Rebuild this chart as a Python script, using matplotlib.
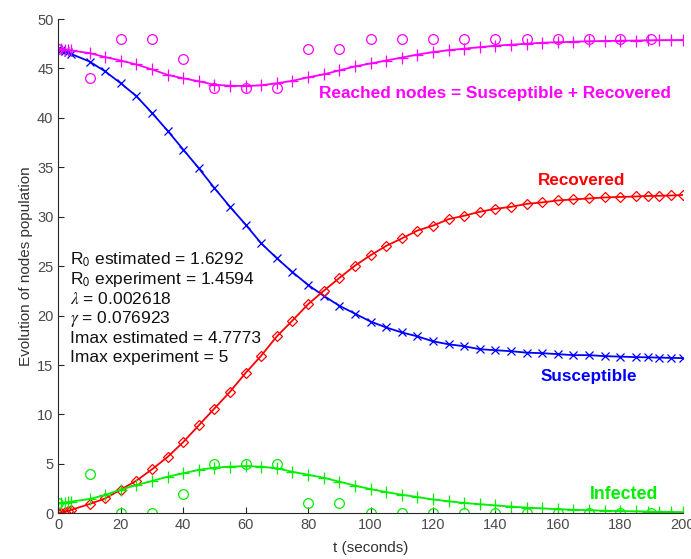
import matplotlib
matplotlib.use("Agg")
import matplotlib.pyplot as plt

plt.rcParams['font.family'] = ['Liberation Sans', 'DejaVu Sans']
plt.rcParams['mathtext.fontset'] = 'stix'

# solver output times
t = [0, 1, 2, 3, 4, 10, 15, 20, 25, 30, 35, 40, 45, 50, 55, 60, 65, 70, 75, 80,
     85, 90, 95, 100, 105, 110, 115, 120, 125, 130, 135, 140, 145, 150, 155, 160,
     165, 170, 175, 180, 185, 188.75, 192.5, 196.25, 200]

susceptible = [47.0, 46.88, 46.75, 46.62, 46.48, 45.7, 44.7, 43.5, 42.2, 40.5, 38.7,
               36.8, 34.9, 32.9, 31.0, 29.2, 27.3, 25.8, 24.4, 23.1, 22.0, 21.0, 20.2,
               19.4, 18.8, 18.3, 17.9, 17.4, 17.1, 16.9, 16.6, 16.5, 16.4, 16.25, 16.2,
               16.1, 16.0, 16.0, 15.9, 15.85, 15.8, 15.78, 15.75, 15.72, 15.7]

infected = [1.0, 1.05, 1.09, 1.13, 1.18, 1.45, 1.85, 2.4, 2.85, 3.27, 3.7, 4.05, 4.4,
            4.62, 4.72, 4.78, 4.72, 4.55, 4.2, 3.9, 3.6, 3.2, 2.8, 2.45, 2.15, 1.88,
            1.65, 1.4, 1.22, 1.05, 0.92, 0.8, 0.68, 0.58, 0.5, 0.42, 0.36, 0.31, 0.27,
            0.23, 0.2, 0.18, 0.16, 0.14, 0.12]

recovered = [0.0, 0.08, 0.16, 0.25, 0.34, 0.94, 1.5, 2.4, 3.3, 4.45, 5.7, 7.2, 8.9,
             10.6, 12.3, 14.2, 15.95, 17.9, 19.5, 21.15, 22.5, 23.8, 25.05, 26.1, 27.05,
             27.8, 28.6, 29.1, 29.75, 30.1, 30.5, 30.8, 31.0, 31.3, 31.45, 31.65, 31.75,
             31.85, 31.95, 32.0, 32.05, 32.1, 32.12, 32.15, 32.2]

reached = [47.0, 46.95, 46.91, 46.87, 46.82, 46.55, 46.15, 45.8, 45.4, 44.9, 44.35,
           44.0, 43.7, 43.35, 43.25, 43.22, 43.3, 43.5, 43.75, 44.1, 44.4, 44.8, 45.2,
           45.5, 45.8, 46.1, 46.4, 46.65, 46.85, 47.0, 47.15, 47.3, 47.4, 47.5, 47.6,
           47.65, 47.7, 47.75, 47.78, 47.8, 47.82, 47.84, 47.86, 47.87, 47.88]

# experiment samples every 10 s
t_exp = [0, 10, 20, 30, 40, 50, 60, 70, 80, 90, 100, 110, 120, 130, 140, 150,
         160, 170, 180, 190]
reached_exp = [47, 44, 48, 48, 46, 43, 43, 43, 47, 47, 48, 48, 48, 48, 48, 48,
               48, 48, 48, 48]
infected_exp = [1, 4, 0, 0, 2, 5, 5, 5, 1, 1, 0, 0, 0, 0, 0, 0, 0, 0, 0, 0]

info_lines = [
    r"R$_\mathsf{0}$ estimated = 1.6292",
    r"R$_\mathsf{0}$ experiment = 1.4594",
    r"$\lambda$ = 0.002618",
    r"$\gamma$ = 0.076923",
    "Imax estimated = 4.7773",
    "Imax experiment = 5",
]

fig = plt.figure(figsize=(6.91, 5.59), dpi=100)
ax = fig.add_axes([0.0844, 0.0817, 0.9036, 0.8843])

mk = dict(markerfacecolor='none', markeredgewidth=0.9, lw=1.3)
ax.plot(t, susceptible, color='#0000ff', marker='x', ms=6, **mk)
ax.plot(t, recovered, color='#ff0000', marker='D', ms=5, **mk)
ax.plot(t, infected, color='#00ee00', marker='+', ms=8, **mk)
ax.plot(t, reached, color='#ff00ff', marker='+', ms=8, **mk)
ax.plot(t_exp, reached_exp, ls='none', marker='o', ms=7, color='#ff00ff',
        markerfacecolor='none', markeredgewidth=0.9)
ax.plot(t_exp, infected_exp, ls='none', marker='o', ms=7, color='#00ee00',
        markerfacecolor='none', markeredgewidth=0.9)

ax.set_xlim(0, 200)
ax.set_ylim(0, 50)
ax.set_xticks(range(0, 201, 20))
ax.set_yticks(range(0, 51, 5))
ax.spines['top'].set_visible(False)
ax.spines['right'].set_visible(False)
for s in ('left', 'bottom'):
    ax.spines[s].set_color('#262626')
ax.tick_params(direction='in', length=4, colors='#262626', labelcolor='#4a4a4a',
               labelsize=10.5)
ax.set_xlabel("t (seconds)", fontsize=11, color='#333333', labelpad=6)
ax.set_ylabel("Evolution of nodes population", fontsize=11, color='#333333', labelpad=3)

for k, line in enumerate(info_lines):
    ax.text(3.7, 25.6 - k * 1.97, line, fontsize=12.5, color='#111111', va='center')

ax.text(139.7, 42.5, "Reached nodes = Susceptible + Recovered", color='#ff00ff',
        fontsize=12.4, fontweight='bold', ha='center', va='center')
ax.text(167.6, 33.7, "Recovered", color='#ff0000', fontsize=12.3, fontweight='bold',
        ha='center', va='center')
ax.text(170, 13.8, "Susceptible", color='#0000ff', fontsize=12.3, fontweight='bold',
        ha='center', va='center')
ax.text(181.3, 1.95, "Infected", color='#00ee00', fontsize=12.8, fontweight='bold',
        ha='center', va='center')

fig.savefig("out.png", dpi=100)
